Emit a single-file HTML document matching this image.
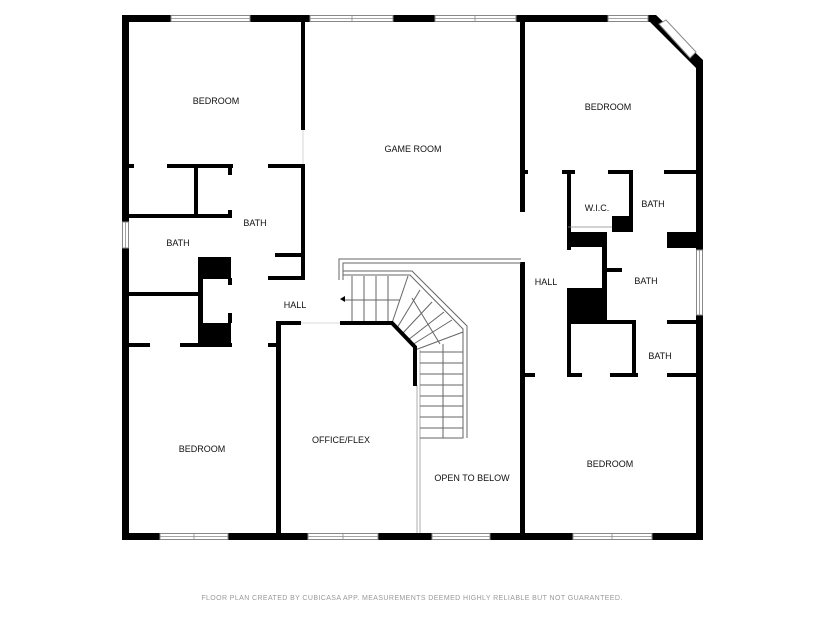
<!DOCTYPE html>
<html><head><style>
html,body{margin:0;padding:0;background:#fff;}
svg{display:block;}
text{font-family:"Liberation Sans",sans-serif;font-size:9px;fill:#111;text-anchor:middle;}
</style></head><body>
<svg width="825" height="619" viewBox="0 0 825 619" xmlns="http://www.w3.org/2000/svg">
<g fill="#000">
<!-- outer walls -->
<rect x="122" y="15" width="7" height="525"/>
<rect x="122" y="15" width="531" height="7"/>
<rect x="122" y="533" width="581" height="7"/>
<rect x="696" y="60" width="7" height="480"/>
<polygon points="650,15 656,15 703,60 703,68 696,68 650,22"/>
<!-- interior -->
<rect x="301" y="22" width="4" height="108"/>
<rect x="520" y="22" width="5" height="190"/>
<rect x="520" y="262" width="5" height="278"/>
<rect x="128" y="164" width="6" height="4"/>
<rect x="167" y="164" width="66" height="4"/>
<rect x="268" y="164" width="37" height="4"/>
<rect x="194" y="164" width="4" height="53"/>
<rect x="128" y="214" width="104" height="4"/>
<rect x="228" y="164" width="4" height="11"/>
<rect x="228" y="210" width="4" height="8"/>
<rect x="301" y="164" width="4" height="115"/>
<rect x="275" y="253" width="30" height="4"/>
<rect x="268" y="276" width="37" height="4"/>
<rect x="198" y="257" width="33" height="22"/>
<rect x="198" y="278" width="5" height="67"/>
<rect x="198" y="323" width="33" height="22"/>
<rect x="228" y="278" width="4" height="7"/>
<rect x="228" y="313" width="4" height="10"/>
<rect x="128" y="292" width="72" height="4"/>
<rect x="128" y="343" width="22" height="4"/>
<rect x="180" y="343" width="52" height="4"/>
<rect x="268" y="343" width="13" height="4"/>
<rect x="276" y="321" width="5" height="219"/>
<rect x="276" y="321" width="25" height="4"/>
<!-- right side -->
<rect x="520" y="170" width="8" height="4"/>
<rect x="562" y="170" width="13" height="4"/>
<rect x="608" y="170" width="24" height="4"/>
<rect x="664" y="170" width="39" height="4"/>
<rect x="567" y="170" width="4" height="80"/>
<rect x="629" y="170" width="4" height="62"/>
<rect x="612" y="216" width="20" height="16"/>
<rect x="567" y="232" width="40" height="15"/>
<rect x="667" y="232" width="30" height="16"/>
<rect x="602" y="232" width="5" height="90"/>
<rect x="602" y="268" width="20" height="4"/>
<rect x="567" y="288" width="38" height="34"/>
<rect x="567" y="288" width="4" height="88"/>
<rect x="567" y="320" width="68" height="4"/>
<rect x="667" y="320" width="30" height="4"/>
<rect x="632" y="320" width="4" height="56"/>
<rect x="520" y="373" width="15" height="4"/>
<rect x="567" y="373" width="15" height="4"/>
<rect x="610" y="373" width="28" height="4"/>
<rect x="667" y="373" width="30" height="4"/>
</g>
<!-- windows -->
<g fill="#fff" stroke="#888" stroke-width="1">
<rect x="171" y="15.5" width="79" height="6"/>
<rect x="310" y="15.5" width="83" height="6"/>
<rect x="435" y="15.5" width="81" height="6"/>
<rect x="608" y="15.5" width="40" height="6"/>
<rect x="160" y="533.5" width="68" height="6"/>
<rect x="308" y="533.5" width="70" height="6"/>
<rect x="432" y="533.5" width="58" height="6"/>
<rect x="573" y="533.5" width="79" height="6"/>
<rect x="122.5" y="222" width="6" height="26"/>
<rect x="696.5" y="250" width="6" height="65"/>
</g>
<g stroke="#888" stroke-width="0.8">
<line x1="171" y1="18.5" x2="250" y2="18.5"/><line x1="310" y1="18.5" x2="393" y2="18.5"/><line x1="352" y1="15" x2="352" y2="22"/>
<line x1="435" y1="18.5" x2="516" y2="18.5"/><line x1="475" y1="15" x2="475" y2="22"/><line x1="608" y1="18.5" x2="648" y2="18.5"/>
<line x1="160" y1="536.5" x2="228" y2="536.5"/><line x1="194" y1="533" x2="194" y2="540"/>
<line x1="308" y1="536.5" x2="378" y2="536.5"/><line x1="343" y1="533" x2="343" y2="540"/>
<line x1="432" y1="536.5" x2="490" y2="536.5"/>
<line x1="573" y1="536.5" x2="652" y2="536.5"/><line x1="612" y1="533" x2="612" y2="540"/>
<line x1="125.5" y1="222" x2="125.5" y2="248"/><line x1="699.5" y1="250" x2="699.5" y2="315"/>
<line x1="568" y1="227" x2="612" y2="227"/>
<line x1="417" y1="385" x2="417" y2="533" stroke="#999"/>
<line x1="420" y1="350" x2="420" y2="533" stroke="#999"/>
<line x1="303" y1="130" x2="303" y2="164" stroke="#ccc"/>
<line x1="301" y1="323" x2="340" y2="323" stroke="#ccc"/>
</g>
<polygon points="659,24 666,20 696,52 690,58" fill="#fff" stroke="#888" stroke-width="1"/>
<!-- stairs -->
<g fill="none" stroke="#666" stroke-width="1">
<polyline points="339,280 339,259 521,259"/>
<polyline points="343,280 343,263 521,263"/>
<polyline points="343,271 412,271 467,326 467,438"/>
<polyline points="343,275 410,275 463,329 463,438 420,438"/>
<line x1="352" y1="276" x2="352" y2="323"/><line x1="364" y1="276" x2="364" y2="323"/>
<line x1="376" y1="276" x2="376" y2="323"/><line x1="388" y1="276" x2="388" y2="323"/>
<line x1="343" y1="300" x2="400" y2="300"/>
<line x1="408" y1="276" x2="392" y2="323"/>
<line x1="420" y1="290" x2="397" y2="328"/>
<line x1="432" y1="302" x2="402" y2="334"/>
<line x1="444" y1="312" x2="408" y2="340"/>
<line x1="452" y1="320" x2="412" y2="345"/>
<line x1="463" y1="332" x2="415" y2="350"/>
<line x1="412" y1="298" x2="440" y2="344"/>
<line x1="443" y1="344" x2="443" y2="438"/>
<line x1="420" y1="363" x2="463" y2="363"/><line x1="420" y1="374" x2="463" y2="374"/>
<line x1="420" y1="385" x2="463" y2="385"/><line x1="420" y1="396" x2="463" y2="396"/>
<line x1="420" y1="406" x2="463" y2="406"/><line x1="420" y1="417" x2="463" y2="417"/>
<line x1="420" y1="428" x2="463" y2="428"/><line x1="420" y1="352" x2="463" y2="352"/>
</g>
<polygon points="340,299 345,296 345,302" fill="#000"/>
<polyline points="340,323 392,323 415,347 415,386" fill="none" stroke="#000" stroke-width="4"/>
<!-- labels -->
<text x="216" y="104">BEDROOM</text>
<text x="413" y="152">GAME ROOM</text>
<text x="608" y="110">BEDROOM</text>
<text x="255" y="226">BATH</text>
<text x="178" y="246">BATH</text>
<text x="295" y="308">HALL</text>
<text x="597" y="211">W.I.C.</text>
<text x="653" y="207">BATH</text>
<text x="546" y="285">HALL</text>
<text x="646" y="284">BATH</text>
<text x="660" y="359">BATH</text>
<text x="202" y="452">BEDROOM</text>
<text x="341" y="443">OFFICE/FLEX</text>
<text x="472" y="481">OPEN TO BELOW</text>
<text x="610" y="467">BEDROOM</text>
<text x="412" y="600" style="font-size:7px;fill:#999;letter-spacing:0.4px">FLOOR PLAN CREATED BY CUBICASA APP. MEASUREMENTS DEEMED HIGHLY RELIABLE BUT NOT GUARANTEED.</text>
</svg>
</body></html>
